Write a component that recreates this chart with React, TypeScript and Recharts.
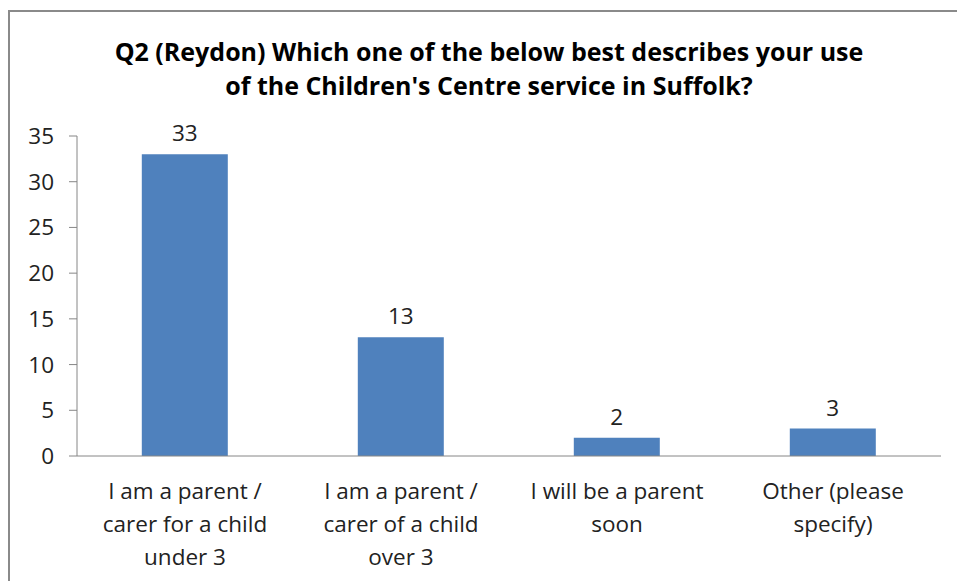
import React from 'react';
import { BarChart, Bar, XAxis, YAxis, LabelList } from 'recharts';

const categories = [
  'I am a parent / carer for a child under 3',
  'I am a parent / carer of a child over 3',
  'I will be a parent soon',
  'Other (please specify)',
];
// how each category label wraps under the axis
const categoryLines = [
  ['I am a parent /', 'carer for a child', 'under 3'],
  ['I am a parent /', 'carer of a child', 'over 3'],
  ['I will be a parent', 'soon'],
  ['Other (please', 'specify)'],
];
const responses = [33, 13, 2, 3];
const yTicks = [0, 5, 10, 15, 20, 25, 30, 35];
const boundaryTicks = [0, 1, 2, 3, 4];

const titleLines = [
  'Q2 (Reydon) Which one of the below best describes your use',
  "of the Children's Centre service in Suffolk?",
];

const FONT = '"Open Sans", Lato, sans-serif';
const AXIS = '#868686';
const BAR = '#4F81BD';
const TEXT = 22.5;

const data = categories.map((name, i) => ({ name, value: responses[i], idx: i }));

const CategoryTick = (props: any) => {
  const { x, y, payload } = props;
  const lines = categoryLines[payload.index] || [payload.value];
  return (
    <text x={x} y={y} textAnchor="middle" fill="#222" fontSize={TEXT} fontFamily={FONT}>
      {lines.map((l, i) => (
        <tspan key={i} x={x} dy={i === 0 ? 42 : 33}>
          {l}
        </tspan>
      ))}
    </text>
  );
};

export default function App() {
  return (
    <div
      style={{
        position: 'absolute',
        left: 0,
        top: 0,
        width: 957,
        height: 581,
        overflow: 'hidden',
        background: '#fff',
      }}
    >
      <div
        style={{
          position: 'absolute',
          left: 8,
          top: 10,
          width: 1000,
          height: 700,
          border: '2px solid #8a8a8a',
        }}
      />
      <div
        style={{
          position: 'absolute',
          left: 0,
          top: 34,
          width: 978,
          textAlign: 'center',
          fontFamily: FONT,
          fontWeight: 700,
          fontSize: 25,
          lineHeight: '34px',
          color: '#000',
        }}
      >
        {titleLines.map((t) => (
          <div key={t}>{t}</div>
        ))}
      </div>
      <div style={{ position: 'absolute', left: 0, top: 0 }}>
        <BarChart
          width={957}
          height={581}
          data={data}
          margin={{ top: 136, right: 16, left: 17, bottom: 24 }}
          barCategoryGap="30%"
        >
          <XAxis
            xAxisId="bounds"
            type="number"
            domain={[0, 4]}
            ticks={boundaryTicks}
            allowDataOverflow
            height={1}
            tick={false}
            tickSize={8}
            tickLine={{ stroke: AXIS }}
            axisLine={{ stroke: AXIS }}
          />
          <XAxis
            xAxisId="cat"
            dataKey="name"
            height={100}
            interval={0}
            axisLine={false}
            tickLine={false}
            tickSize={0}
            tickMargin={0}
            tick={<CategoryTick />}
          />
          <YAxis
            domain={[0, 35]}
            ticks={yTicks}
            width={60}
            tickSize={8}
            tickMargin={15}
            axisLine={{ stroke: AXIS }}
            tickLine={{ stroke: AXIS }}
            tick={{ fill: '#222', fontSize: TEXT, fontFamily: FONT }}
          />
          <Bar dataKey="value" xAxisId="cat" fill={BAR} isAnimationActive={false}>
            <LabelList
              dataKey="value"
              position="top"
              offset={13}
              fill="#222"
              fontSize={TEXT}
              fontFamily={FONT}
            />
          </Bar>
        </BarChart>
      </div>
    </div>
  );
}
